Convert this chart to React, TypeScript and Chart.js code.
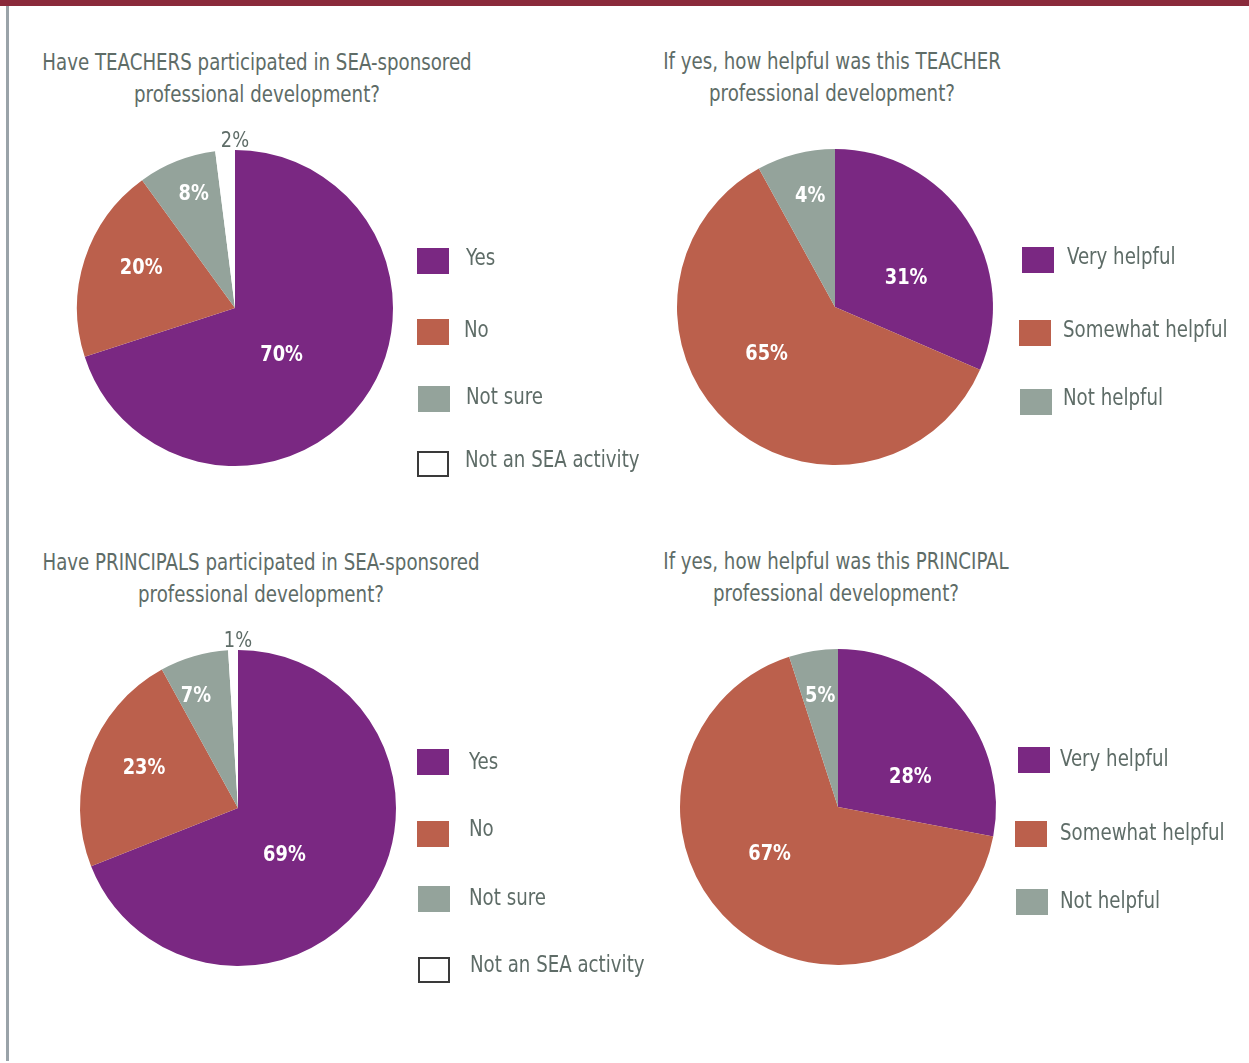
import React, { useEffect, useRef } from "react";
import { Chart, registerables } from "chart.js";

Chart.register(...registerables);

// ---------- DATA ----------
const participationCategories = ["Yes", "No", "Not sure", "Not an SEA activity"];
const helpfulnessCategories = ["Very helpful", "Somewhat helpful", "Not helpful"];

const teacherParticipation = [70, 20, 8, 2];
const teacherParticipationLabels = ["70%", "20%", "8%", "2%"];

// slice shares as drawn in the picture (printed labels below)
const teacherHelpfulness = [31.5, 60.5, 8];
const teacherHelpfulnessLabels = ["31%", "65%", "4%"];

const principalParticipation = [69, 23, 7, 1];
const principalParticipationLabels = ["69%", "23%", "7%", "1%"];

const principalHelpfulness = [28, 67, 5];
const principalHelpfulnessLabels = ["28%", "67%", "5%"];

const titles = [
  ["Have TEACHERS participated in SEA-sponsored", "professional development?"],
  ["If yes, how helpful was this TEACHER", "professional development?"],
  ["Have PRINCIPALS participated in SEA-sponsored", "professional development?"],
  ["If yes, how helpful was this PRINCIPAL", "professional development?"],
];

// ---------- STYLE ----------
const PURPLE = "#7a2882";
const ORANGE = "#bb604c";
const GRAY = "#94a39b";
const WHITE = "#ffffff";
const TEXT = "#5e6c67";
const FONT = "'DejaVu Sans Condensed', 'Liberation Sans Narrow', sans-serif";
const SQUEEZE = 0.88;

const participationColors = [PURPLE, ORANGE, GRAY, WHITE];
const helpfulnessColors = [PURPLE, ORANGE, GRAY];

const RADIUS = 158;
const PAD = 42;
const SIZE = 2 * (RADIUS + PAD);

// label placement style: angle nudge from slice middle (deg), distance as fraction of radius
type Placement = { nudge: number[]; dist: number[] };
const participationPlacementT: Placement = { nudge: [8, 6, 2, 3.6], dist: [0.41, 0.65, 0.78, 1.07] };
const helpfulnessPlacementT: Placement = { nudge: [10, 14, 2], dist: [0.49, 0.52, 0.73] };
const participationPlacementP: Placement = { nudge: [10, 4, -4, 1.8], dist: [0.41, 0.65, 0.77, 1.07] };
const helpfulnessPlacementP: Placement = { nudge: [16, 15, 0], dist: [0.5, 0.52, 0.72] };

const sliceLabelPlugin = {
  id: "sliceLabels",
  afterDatasetsDraw(chart: any) {
    const ctx = chart.ctx;
    const ds = chart.data.datasets[0];
    const labels: string[] = ds.sliceLabels;
    const place: Placement = ds.placement;
    const meta = chart.getDatasetMeta(0);
    meta.data.forEach((arc: any, i: number) => {
      const p = arc.getProps(["x", "y", "startAngle", "endAngle", "outerRadius"], true);
      const mid = (p.startAngle + p.endAngle) / 2 + (place.nudge[i] * Math.PI) / 180;
      const frac = place.dist[i];
      const outside = frac > 1;
      const x = p.x + Math.cos(mid) * p.outerRadius * frac;
      const y = p.y + Math.sin(mid) * p.outerRadius * frac + 2;
      ctx.save();
      ctx.translate(x, y);
      ctx.scale(0.9, 1);
      ctx.textAlign = "center";
      ctx.textBaseline = "middle";
      if (outside) {
        ctx.fillStyle = TEXT;
        ctx.font = `22px ${FONT}`;
      } else {
        ctx.fillStyle = "#ffffff";
        ctx.font = `bold 22px ${FONT}`;
      }
      ctx.fillText(labels[i], 0, 0);
      ctx.restore();
    });
  },
};

type PieProps = {
  values: number[];
  labels: string[];
  colors: string[];
  placement: Placement;
  cx: number;
  cy: number;
};

function Pie({ values, labels, colors, placement, cx, cy }: PieProps) {
  const ref = useRef<HTMLCanvasElement | null>(null);
  useEffect(() => {
    if (!ref.current) return;
    const chart = new Chart(ref.current, {
      type: "pie",
      data: {
        labels: labels,
        datasets: [
          {
            data: values,
            backgroundColor: colors,
            borderWidth: 0,
            hoverOffset: 0,
            sliceLabels: labels,
            placement: placement,
          } as any,
        ],
      },
      options: {
        responsive: false,
        animation: false,
        layout: { padding: PAD },
        plugins: { legend: { display: false }, tooltip: { enabled: false }, title: { display: false } },
        events: [],
      },
      plugins: [sliceLabelPlugin],
    });
    return () => chart.destroy();
  }, [values, labels, colors, placement]);
  return (
    <canvas
      ref={ref}
      width={SIZE}
      height={SIZE}
      style={{ position: "absolute", left: cx - SIZE / 2, top: cy - SIZE / 2, width: SIZE, height: SIZE }}
    />
  );
}

type LegendItem = { box: [number, number]; textX: number; textY: number };

function Legend({ categories, colors, items }: { categories: string[]; colors: string[]; items: LegendItem[] }) {
  return (
    <>
      {categories.map((c, i) => {
        const it = items[i];
        const isWhite = colors[i] === WHITE;
        return (
          <React.Fragment key={c}>
            <div
              style={{
                position: "absolute",
                left: it.box[0],
                top: it.box[1],
                width: 32,
                height: 26,
                boxSizing: "border-box",
                background: colors[i],
                border: isWhite ? "2px solid #3a3a3a" : "none",
              }}
            />
            <div
              style={{
                position: "absolute",
                left: it.textX,
                top: it.textY - 16,
                height: 32,
                lineHeight: "32px",
                fontFamily: FONT,
                fontSize: 23,
                color: TEXT,
                whiteSpace: "nowrap",
                transform: `scaleX(${SQUEEZE})`,
                transformOrigin: "0 50%",
              }}
            >
              {c}
            </div>
          </React.Fragment>
        );
      })}
    </>
  );
}

function Title({ lines, cx, y }: { lines: string[]; cx: number; y: number }) {
  return (
    <div
      style={{
        position: "absolute",
        left: cx - 300,
        width: 600,
        top: y - 16,
        textAlign: "center",
        fontFamily: FONT,
        fontSize: 23,
        lineHeight: "32px",
        color: TEXT,
        whiteSpace: "nowrap",
        transform: `scaleX(${SQUEEZE})`,
        transformOrigin: "50% 50%",
      }}
    >
      {lines.map((l) => (
        <div key={l}>{l}</div>
      ))}
    </div>
  );
}

export default function App() {
  return (
    <div
      style={{
        position: "absolute",
        left: 0,
        top: 0,
        width: 1249,
        height: 1063,
        background: "#ffffff",
        overflow: "hidden",
      }}
    >
      <div style={{ position: "absolute", left: 0, top: 0, width: 1249, height: 6, background: "#8a2a3b" }} />
      <div style={{ position: "absolute", left: 6, top: 6, width: 2.5, height: 1055, background: "#9aa3a9" }} />

      <Title lines={titles[0]} cx={257} y={62} />
      <Title lines={titles[1]} cx={832} y={61} />
      <Title lines={titles[2]} cx={261} y={562} />
      <Title lines={titles[3]} cx={836} y={561} />

      <Pie values={teacherParticipation} labels={teacherParticipationLabels} colors={participationColors} placement={participationPlacementT} cx={235} cy={308} />
      <Pie values={teacherHelpfulness} labels={teacherHelpfulnessLabels} colors={helpfulnessColors} placement={helpfulnessPlacementT} cx={835} cy={307} />
      <Pie values={principalParticipation} labels={principalParticipationLabels} colors={participationColors} placement={participationPlacementP} cx={238} cy={808} />
      <Pie values={principalHelpfulness} labels={principalHelpfulnessLabels} colors={helpfulnessColors} placement={helpfulnessPlacementP} cx={838} cy={807} />

      <Legend
        categories={participationCategories}
        colors={participationColors}
        items={[
          { box: [417, 248], textX: 466, textY: 257 },
          { box: [417, 319], textX: 464, textY: 329 },
          { box: [418, 386], textX: 466, textY: 396 },
          { box: [417, 451], textX: 465, textY: 459 },
        ]}
      />
      <Legend
        categories={helpfulnessCategories}
        colors={helpfulnessColors}
        items={[
          { box: [1022, 247], textX: 1067, textY: 256 },
          { box: [1019, 320], textX: 1063, textY: 329 },
          { box: [1020, 389], textX: 1063, textY: 397 },
        ]}
      />
      <Legend
        categories={participationCategories}
        colors={participationColors}
        items={[
          { box: [417, 749], textX: 469, textY: 761 },
          { box: [417, 821], textX: 469, textY: 828 },
          { box: [418, 886], textX: 469, textY: 897 },
          { box: [418, 957], textX: 470, textY: 964 },
        ]}
      />
      <Legend
        categories={helpfulnessCategories}
        colors={helpfulnessColors}
        items={[
          { box: [1018, 747], textX: 1060, textY: 758 },
          { box: [1015, 821], textX: 1060, textY: 832 },
          { box: [1016, 889], textX: 1060, textY: 900 },
        ]}
      />
    </div>
  );
}
